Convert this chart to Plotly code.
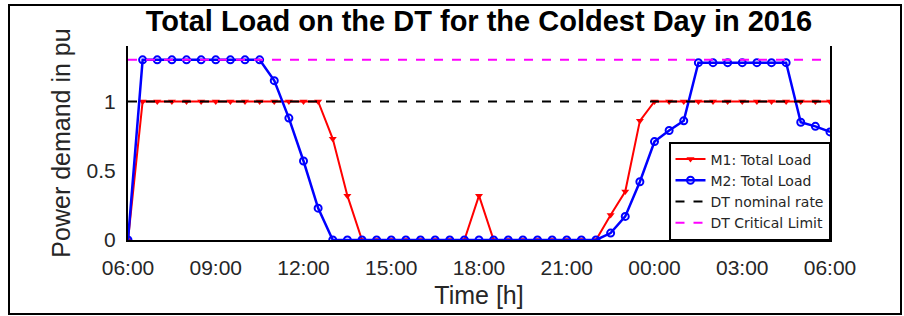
import plotly.graph_objects as go
from datetime import datetime, timedelta

# ---- data ----
base = datetime(2016, 1, 18, 6, 0)
hours = [i * 0.5 for i in range(49)]
times = [base + timedelta(hours=h) for h in hours]

m1_total = [0,
            1, 1, 1, 1, 1, 1, 1, 1, 1, 1, 1, 1, 1,
            0.73, 0.32,
            0, 0, 0, 0, 0, 0, 0, 0,
            0.32,
            0, 0, 0, 0, 0, 0, 0, 0,
            0.18, 0.35, 0.86,
            1, 1, 1, 1, 1, 1, 1, 1, 1, 1, 1, 1, 1]

m2_total = [0,
            1.3, 1.3, 1.3, 1.3, 1.3, 1.3, 1.3, 1.3, 1.3,
            1.15, 0.88, 0.57, 0.23,
            0, 0, 0, 0, 0, 0, 0, 0, 0, 0, 0, 0, 0, 0, 0, 0, 0, 0, 0,
            0.05, 0.17, 0.42, 0.71, 0.79, 0.86,
            1.28, 1.28, 1.28, 1.28, 1.28, 1.28, 1.28,
            0.85, 0.82, 0.78]

nominal_rate = 1.0
critical_limit = 1.3

tick_hours = [0, 3, 6, 9, 12, 15, 18, 21, 24]
tick_text = ["06:00", "09:00", "12:00", "15:00", "18:00", "21:00", "00:00", "03:00", "06:00"]
tick_vals = [base + timedelta(hours=h) for h in tick_hours]

FONT = "Liberation Sans, Arial, sans-serif"
TXT = "#262626"

fig = go.Figure()
fig.add_trace(go.Scatter(
    x=times, y=m1_total, name="M1: Total Load", mode="lines+markers",
    line=dict(color="#FF0000", width=2),
    marker=dict(symbol="triangle-down", size=7, color="#FF0000")))
fig.add_trace(go.Scatter(
    x=times, y=m2_total, name="M2: Total Load", mode="lines+markers",
    line=dict(color="#0000FF", width=2.5),
    marker=dict(symbol="circle-open", size=7, color="#0000FF", line=dict(width=2))))
fig.add_trace(go.Scatter(
    x=[times[0], times[-1]], y=[nominal_rate, nominal_rate], name="DT nominal rate",
    mode="lines", line=dict(color="black", width=2, dash="dash")))
fig.add_trace(go.Scatter(
    x=[times[0], times[-1]], y=[critical_limit, critical_limit], name="DT Critical Limit",
    mode="lines", line=dict(color="#FF00FF", width=2, dash="dash")))

L, R, T, B = 128, 74, 46, 76
W, H = 904, 316
pw, ph = W - L - R, H - T - B

fig.update_layout(
    width=W, height=H,
    margin=dict(l=L, r=R, t=T, b=B, autoexpand=False),
    paper_bgcolor="white", plot_bgcolor="white",
    font=dict(family=FONT, size=21, color=TXT),
    title=dict(text="<b>Total Load on the DT for the Coldest Day in 2016</b>",
               font=dict(family=FONT, size=29, color="black"),
               x=(L + pw / 2) / W, xanchor="center", y=1 - 21 / H, yanchor="middle"),
    showlegend=True,
    legend=dict(x=1, xanchor="right", y=0, yanchor="bottom",
                bgcolor="white", bordercolor="black", borderwidth=1.5,
                font=dict(family="DejaVu Sans, sans-serif", size=14, color=TXT),
                tracegroupgap=0, itemwidth=30),
    xaxis=dict(range=[times[0], times[-1]], tickvals=tick_vals, ticktext=tick_text,
               showgrid=False, zeroline=False, showline=True, linecolor="black",
               linewidth=2, ticks="", automargin=False, ticklabelstandoff=8,
               title=dict(text="Time [h]", standoff=8),
               tickfont=dict(size=21)),
    yaxis=dict(range=[0, 1.4], tickvals=[0, 0.5, 1], ticktext=["0", "0.5", "1"],
               showgrid=False, zeroline=False, showline=True, linecolor="black",
               linewidth=2, mirror=True, ticks="", automargin=False, ticklabelstandoff=6,
               title=dict(text="Power demand in pu", standoff=9),
               tickfont=dict(size=21)),
    shapes=[dict(type="rect", xref="paper", yref="paper",
                 x0=(9 - L) / pw, x1=(901 - L) / pw,
                 y0=(H - B - 314) / ph, y1=(H - B - 5) / ph,
                 line=dict(color="black", width=2), fillcolor="rgba(0,0,0,0)", layer="below")],
)

fig.write_html("out.html", config={"displayModeBar": False},
               post_script="document.body.style.margin='0';")
